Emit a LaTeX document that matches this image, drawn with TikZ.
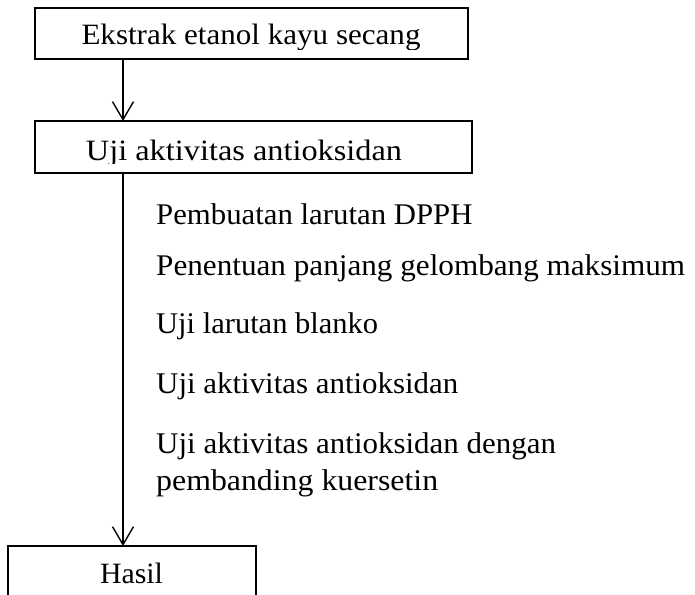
\documentclass[tikz,border=0pt]{standalone}
\usepackage{graphicx}
\usepackage{fontspec}
\setmainfont{Liberation Serif}
\usetikzlibrary{arrows.meta}
\newcommand\fitx[2]{\scalebox{#1}[1]{#2}}
\begin{document}
\begin{tikzpicture}[x=1pt,y=-1pt,
  boxline/.style={draw=black,line width=1.4pt},
  flowarrow/.style={line width=1.4pt,-{Straight Barb[length=18pt,width=21pt,line width=1.4pt]}},
  boxtxt/.style={inner sep=0pt,anchor=base,font=\fontsize{29.5}{34}\selectfont},
  item/.style={inner sep=0pt,anchor=base west,font=\fontsize{30}{36}\selectfont}]
\useasboundingbox (0,0) rectangle (695,594);
% boxes
\draw[boxline] (35,8) rectangle (468,59);
\draw[boxline] (35,121) rectangle (472,173);
\draw[boxline] (8,600) -- (8,546) -- (256,546) -- (256,600);
\coordinate (b1s) at (123,59);
\coordinate (b2n) at (123,121);
\coordinate (b2s) at (123,173);
\coordinate (b3n) at (123,546);
% clipped texts
\begin{scope}
\clip (35,8) rectangle (468,49.3);
\node[boxtxt] (t1) at (251,45) {\fitx{1.053}{Ekstrak etanol kayu secang}};
\end{scope}
\begin{scope}
\clip (35,121) rectangle (472,163.5);
\node[boxtxt] (t2) at (244,160.5) {\fitx{1.096}{Uji aktivitas antioksidan}};
\end{scope}
\node[boxtxt] (t3) at (131.5,583) {\fitx{1.01}{Hasil}};
% arrows
\draw[flowarrow] (b1s) -- (b2n);
\draw[flowarrow] (b2s) -- (b3n);
% list
\node[item] (l1) at (156,224) {\fitx{1.026}{Pembuatan larutan DPPH}};
\node[item] (l2) at (156,275) {\fitx{1.039}{Penentuan panjang gelombang maksimum}};
\node[item] (l3) at (156,333) {\fitx{1.017}{Uji larutan blanko}};
\node[item] (l4) at (156,393) {\fitx{1.03}{Uji aktivitas antioksidan}};
\node[item] (l5) at (156,453) {\fitx{1.032}{Uji aktivitas antioksidan dengan}};
\node[item] (l6) at (156,490) {\fitx{1.061}{pembanding kuersetin}};
\end{tikzpicture}
\end{document}
